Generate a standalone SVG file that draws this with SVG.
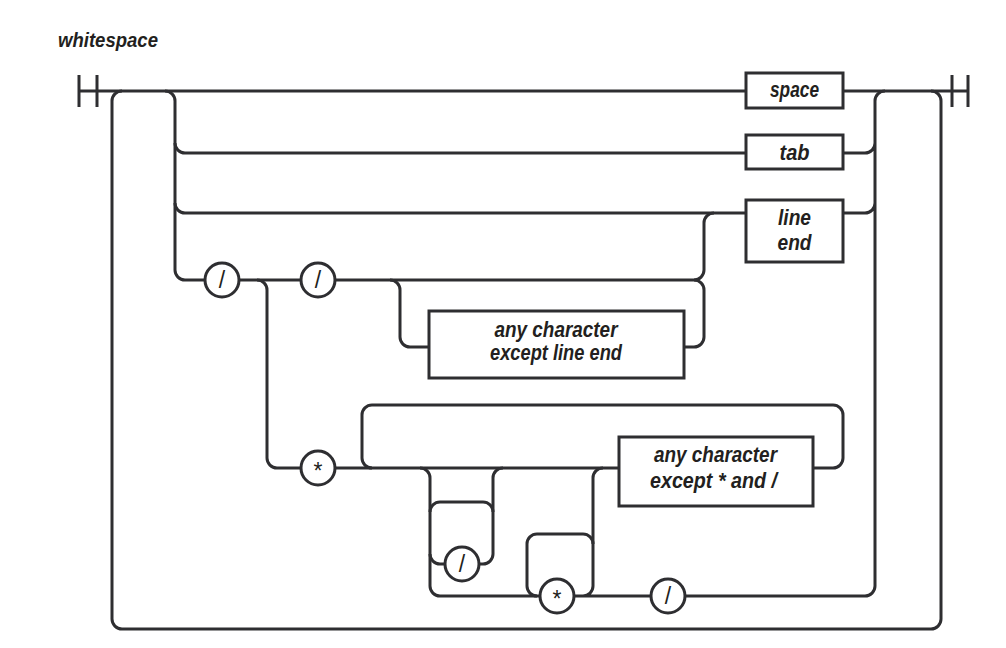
<svg xmlns="http://www.w3.org/2000/svg" width="1006" height="648" viewBox="0 0 1006 648">
<style>
.ln{fill:none;stroke:#2e2e31;stroke-width:3;stroke-linecap:butt}
.bx{fill:#fff;stroke:#2e2e31;stroke-width:3}
.ci{fill:#fff;stroke:#2e2e31;stroke-width:3}
.lb{font-family:"Liberation Sans",Arial,sans-serif;font-weight:bold;font-style:italic;font-size:22px;fill:#231f20;text-anchor:middle}
.tt{font-family:"Liberation Sans",Arial,sans-serif;font-weight:bold;font-style:italic;font-size:21px;fill:#231f20}
.sy{font-family:"Liberation Sans",Arial,sans-serif;font-size:23px;fill:#231f20;text-anchor:middle}
</style>
<rect width="1006" height="648" fill="#fff"/>
<text class="tt" x="58" y="47" textLength="100" lengthAdjust="spacingAndGlyphs">whitespace</text>
<g id="connectors">
<path class="ln" d="M79,75 V107 M97,75 V107 M952,75 V107 M968,75 V107"/>
<path class="ln" d="M79,91 H746 M843,91 H968"/>
<path class="ln" d="M931,91 A10,10 0 0 1 941,101 V619 A10,10 0 0 1 931,629 H122 A10,10 0 0 1 112,619 V101 A10,10 0 0 1 122,91"/>
<path class="ln" d="M165,91 A10,10 0 0 1 175,101 V270 A10,10 0 0 0 185,280 H205"/>
<path class="ln" d="M175,143 A10,10 0 0 0 185,153 H746 M175,203 A10,10 0 0 0 185,213 H746"/>
<path class="ln" d="M843,153 H865 A10,10 0 0 0 875,143 M843,213 H865 A10,10 0 0 0 875,203 M875,586 V101 A10,10 0 0 1 885,91"/>
<path class="ln" d="M685,596 H865 A10,10 0 0 0 875,586"/>
<path class="ln" d="M239,280 H301 M335,280 H694 A10,10 0 0 0 704,270 V223 A10,10 0 0 1 714,213"/>
<path class="ln" d="M257,280 A10,10 0 0 1 267,290 V458 A10,10 0 0 0 277,468 H301"/>
<path class="ln" d="M390,280 A10,10 0 0 1 400,290 V337 A10,10 0 0 0 410,347 H429 M684,347 H694 A10,10 0 0 0 704,337 V290 A10,10 0 0 0 694,280"/>
<path class="ln" d="M335,468 H619"/>
<path class="ln" d="M813,468 H833 A10,10 0 0 0 843,458 V415 A10,10 0 0 0 833,405 H372 A10,10 0 0 0 362,415 V458 A10,10 0 0 0 372,468"/>
<path class="ln" d="M420,468 A10,10 0 0 1 430,478 V586 A10,10 0 0 0 440,596 H540"/>
<path class="ln" d="M430,512 A10,10 0 0 1 440,502 H483 A10,10 0 0 1 493,512"/>
<path class="ln" d="M430,554 A10,10 0 0 0 440,564 H445 M479,564 H483 A10,10 0 0 0 493,554 V478 A10,10 0 0 1 503,468"/>
<path class="ln" d="M537,596 A10,10 0 0 1 527,586 V544 A10,10 0 0 1 537,534 H583 A10,10 0 0 1 593,544"/>
<path class="ln" d="M574,596 H651 M583,596 A10,10 0 0 0 593,586 V478 A10,10 0 0 1 603,468"/>
</g>
<g id="space"><rect class="bx" x="746" y="73" width="97" height="35"/><text class="lb" x="794.5" y="97" textLength="49" lengthAdjust="spacingAndGlyphs">space</text></g>
<g id="tab"><rect class="bx" x="746" y="135" width="97" height="34"/><text class="lb" x="794.5" y="160" textLength="30" lengthAdjust="spacingAndGlyphs">tab</text></g>
<g id="lineend"><rect class="bx" x="746" y="200" width="97" height="62"/><text class="lb" x="794.5" y="225" textLength="33" lengthAdjust="spacingAndGlyphs">line</text><text class="lb" x="794.5" y="250" textLength="34" lengthAdjust="spacingAndGlyphs">end</text></g>
<g id="anychar1"><rect class="bx" x="429" y="311" width="255" height="67"/><text class="lb" x="556" y="337" textLength="123" lengthAdjust="spacingAndGlyphs">any character</text><text class="lb" x="556" y="360" textLength="132" lengthAdjust="spacingAndGlyphs">except line end</text></g>
<g id="anychar2"><rect class="bx" x="619" y="437" width="194" height="69"/><text class="lb" x="715.5" y="462" textLength="123" lengthAdjust="spacingAndGlyphs">any character</text><text class="lb" x="713.5" y="488" textLength="127" lengthAdjust="spacingAndGlyphs">except * and /</text></g>
<g id="slash1"><circle class="ci" cx="222" cy="280" r="17"/><text class="sy" x="222" y="288">/</text></g>
<g id="slash2"><circle class="ci" cx="318" cy="280" r="17"/><text class="sy" x="318" y="288">/</text></g>
<g id="star1"><circle class="ci" cx="318" cy="468" r="17"/><text class="sy" x="318" y="479">*</text></g>
<g id="slash3"><circle class="ci" cx="462" cy="564" r="17"/><text class="sy" x="462" y="572">/</text></g>
<g id="star2"><circle class="ci" cx="557" cy="596" r="17"/><text class="sy" x="557" y="607">*</text></g>
<g id="slash4"><circle class="ci" cx="668" cy="596" r="17"/><text class="sy" x="668" y="604">/</text></g>
</svg>
